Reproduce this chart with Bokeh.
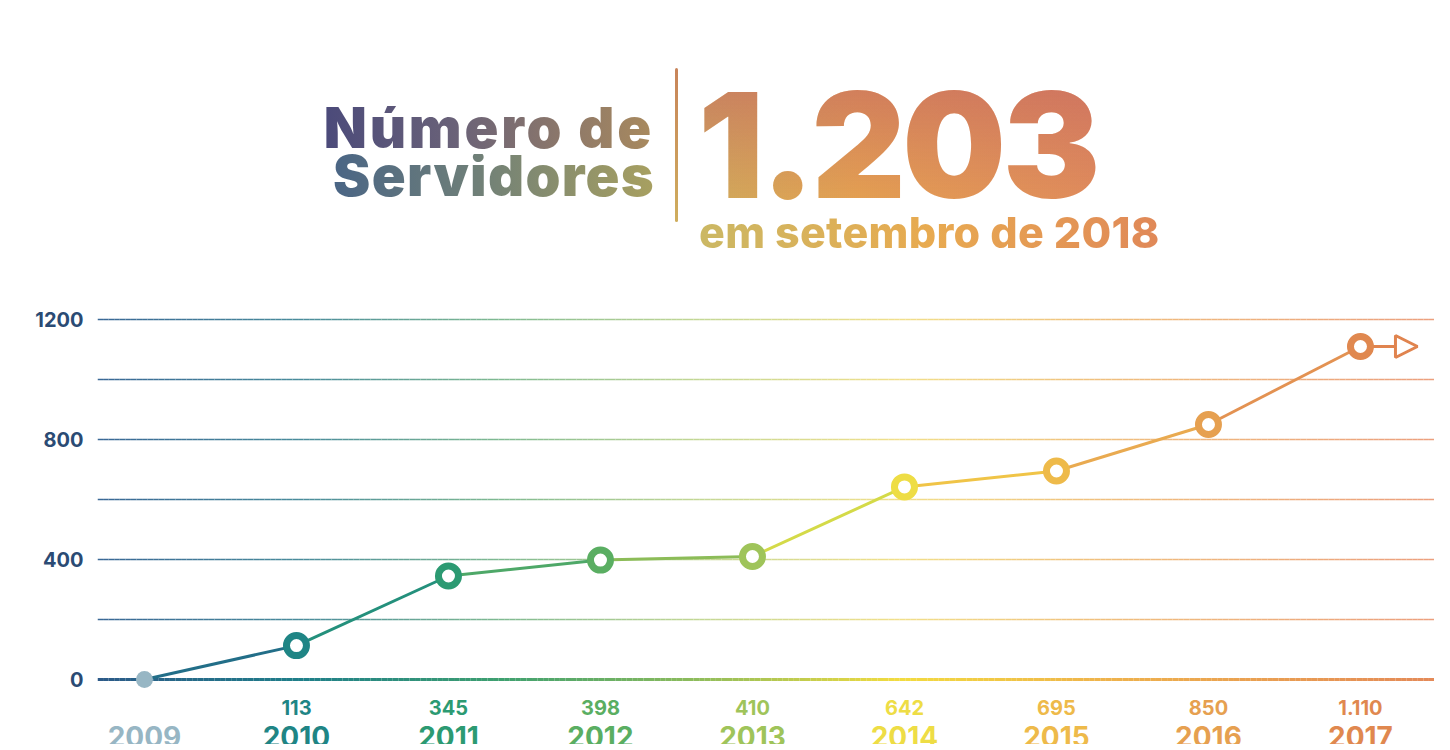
import numpy as np
from bokeh.plotting import figure
from bokeh.models import Range1d, FixedTicker, Div, Arrow, NormalHead
from bokeh.layouts import column
from bokeh.embed import file_html
from bokeh.resources import INLINE
from bokeh.core.properties import value

# ---------------- data ----------------
years = [2009, 2010, 2011, 2012, 2013, 2014, 2015, 2016, 2017]
servidores = [0, 113, 345, 398, 410, 642, 695, 850, 1110]
year_labels = [str(y) for y in years]
value_labels = [f"{v:,}".replace(",", ".") for v in servidores]
y_ticks = [0, 400, 800, 1200]
grid_values = [200, 400, 600, 800, 1000, 1200]
title_line1 = "Número de"
title_line2 = "Servidores"
headline_number = "1.203"
headline_sub = "em setembro de 2018"

# ---------------- styles ----------------
point_colors = ["#97b6c4", "#1f8585", "#2c9a72", "#5aae62", "#9fc45a",
                "#eedd45", "#eeba4a", "#e6a050", "#e0884f"]
segment_colors = ["#226e88", "#24907c", "#4ea868", "#8cbc58", "#d4da48",
                  "#f0c447", "#e9aa50", "#e39252"]
arrow_color = "#e0844f"
axis_text_color = "#2b4b74"
base_stops_pos = [0.0, 0.15, 0.30, 0.45, 0.60, 0.75, 1.0]
base_stops_col = ["#2c5a88", "#1f7f8a", "#3ea070", "#90bd5c", "#f3dc40", "#efb44c", "#e48a58"]
grid_stops_pos = [0.0, 0.15, 0.30, 0.45, 0.60, 0.75, 1.0]
grid_stops_col = ["#3a6896", "#4a8c9c", "#80ba92", "#c4d896", "#f2e08c", "#f0c07e", "#eca07e"]
FONT = "Inter"

W = 1434
TITLE_H = 280
PLOT_H = 454

def hex2rgb(h):
    h = h.lstrip("#")
    return np.array([int(h[i:i + 2], 16) for i in (0, 2, 4)], dtype=float)

def grad_color(t, pos, cols):
    rgbs = np.array([hex2rgb(c) for c in cols])
    r = np.interp(t, pos, rgbs[:, 0])
    g = np.interp(t, pos, rgbs[:, 1])
    b = np.interp(t, pos, rgbs[:, 2])
    return "#%02x%02x%02x" % (int(r), int(g), int(b))

# ---------------- title block ----------------
clip = "-webkit-background-clip:text;background-clip:text;-webkit-text-fill-color:transparent;color:transparent;"
base = "position:absolute;white-space:nowrap;"
title_html = f"""
<div style="position:relative;width:{W}px;height:{TITLE_H}px;font-family:'{FONT}',sans-serif;font-weight:900;">
  <div style="{base}right:785px;top:101px;font-size:56px;line-height:44px;letter-spacing:2.8px;
       background:linear-gradient(90deg,#4b4a7a 0%,#6a6278 40%,#a98a5e 100%);{clip}">{title_line1}</div>
  <div style="{base}right:784px;top:149px;font-size:56px;line-height:44px;letter-spacing:1.3px;
       background:linear-gradient(90deg,#4a6585 0%,#708078 45%,#a8a060 100%);{clip}">{title_line2}</div>
  <div style="position:absolute;left:670px;top:63px;width:3px;height:154px;border-radius:2px;
       background:linear-gradient(180deg,#c8845a,#cfae5e);"></div>
  <div style="{base}left:693px;top:84px;font-size:146px;line-height:112px;letter-spacing:-3.5px;
       background:linear-gradient(180deg,rgba(195,100,100,0.55) 0%,rgba(195,100,100,0) 100%),
                  linear-gradient(90deg,#cfaa5c 0%,#e4a052 40%,#e08c5c 100%);{clip}">{headline_number}</div>
  <div style="{base}left:694px;top:209px;font-size:43px;line-height:36px;letter-spacing:0.3px;font-weight:800;
       background:linear-gradient(90deg,#cbb864 0%,#e8aa50 50%,#e08858 100%);{clip}">{headline_sub}</div>
</div>
"""
title_div = Div(text=title_html, width=W, height=TITLE_H)

# ---------------- plot ----------------
px_per_year = 152.0
px_per_unit = 0.3
x_start = 2008.691
x_end = x_start + (W - 97) / px_per_year
y_top = 1296.7
y_bottom = y_top - PLOT_H / px_per_unit
p = figure(width=W, height=PLOT_H, output_backend="svg", toolbar_location=None,
           x_range=Range1d(x_start, x_end), y_range=Range1d(y_bottom, y_top),
           x_axis_location=None, min_border_left=97, min_border_right=0,
           min_border_top=0, min_border_bottom=0, outline_line_color=None)
p.grid.visible = False
p.background_fill_color = "white"
p.border_fill_color = "white"

ax = p.yaxis[0]
ax.ticker = FixedTicker(ticks=y_ticks)
ax.axis_line_color = None
ax.major_tick_line_color = None
ax.minor_tick_line_color = None
ax.major_tick_out = 0
ax.major_label_standoff = 14
ax.major_label_text_font = FONT
ax.major_label_text_font_style = "bold"
ax.major_label_text_font_size = "20px"
ax.major_label_text_color = axis_text_color

# gradient grid lines
N = 240
xs = np.linspace(x_start, x_end, N + 1)
tt = np.linspace(0, 1, N)
grid_cols = [grad_color(t, grid_stops_pos, grid_stops_col) for t in tt]
base_cols = [grad_color(t, base_stops_pos, base_stops_col) for t in tt]
for g in grid_values:
    p.segment(x0=xs[:-1], y0=[g] * N, x1=xs[1:], y1=[g] * N,
              line_color=grid_cols, line_width=1.5)
p.segment(x0=xs[:-1], y0=[0] * N, x1=xs[1:], y1=[0] * N,
          line_color=base_cols, line_width=3)

# data line segments
p.segment(x0=years[:-1], y0=servidores[:-1], x1=years[1:], y1=servidores[1:],
          line_color=segment_colors, line_width=3)

# continuation arrow
arrow = Arrow(end=NormalHead(size=22, fill_color="white", line_color=arrow_color, line_width=3),
              x_start=years[-1], y_start=servidores[-1],
              x_end=years[-1] + 0.375, y_end=servidores[-1],
              line_color=arrow_color, line_width=3, level="underlay")
p.add_layout(arrow)

# markers
p.scatter(x=years[:1], y=servidores[:1], size=17, fill_color=point_colors[0], line_color=None)
p.scatter(x=years[1:], y=servidores[1:], size=20, fill_color="white",
          line_color=point_colors[1:], line_width=7)

# value labels and year labels below the axis
p.text(x=years[1:], y=[0] * (len(years) - 1), text=value_labels[1:], text_color=point_colors[1:],
       text_font=value(FONT), text_font_size="20px", text_font_style="bold",
       text_align="center", text_baseline="alphabetic", y_offset=28)
p.text(x=years, y=[0] * len(years), text=year_labels, text_color=point_colors,
       text_font=value(FONT), text_font_size="28px", text_font_style="bold",
       text_align="center", text_baseline="alphabetic", y_offset=57)

layout = column(title_div, p)
open("out.html", "w").write(file_html(layout, INLINE))
